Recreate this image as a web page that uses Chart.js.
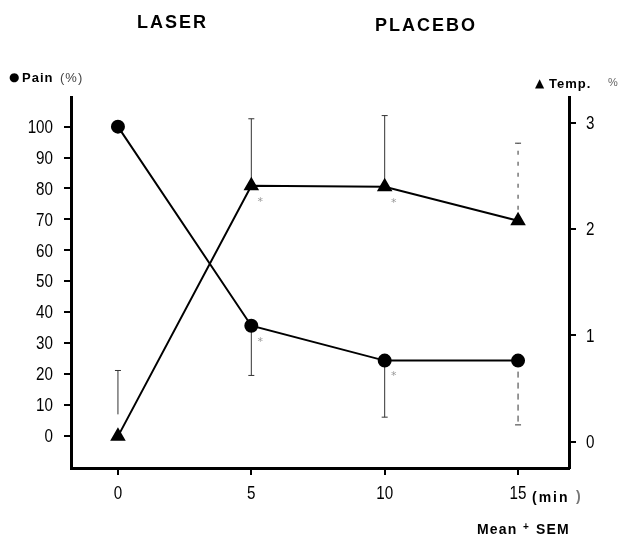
<!DOCTYPE html>
<html>
<head>
<meta charset="utf-8">
<script src="https://cdn.jsdelivr.net/npm/chart.js@4.4.1/dist/chart.umd.min.js"></script>
<style>
  html, body { margin: 0; padding: 0; background: #fff; }
  #wrap { width: 621px; height: 537px; }
</style>
</head>
<body>
<div id="wrap"><canvas id="myChart" width="621" height="537"></canvas></div>
<script>
// minutes after treatment
const minutes = [0, 5, 10, 15];
// pain (%)
const pain = [100, 35.6, 24.3, 24.3];
const painSemLow = [null, 19.5, 6, 3.5];
// temperature change
const temp = [0.05, 2.41, 2.40, 2.08];
const tempSemHigh = [0.67, 3.04, 3.07, 2.81];
// tick labels
const minuteTicks = [0, 5, 10, 15];
const painTicks = [0, 10, 20, 30, 40, 50, 60, 70, 80, 90, 100];
const tempTicks = [0, 1, 2, 3];
// where the significance stars sit (index into minutes)
const painStars = [1, 2];
const tempStars = [1, 2];

const tickFont = '19px "Liberation Sans", Arial, sans-serif';

// condensed looking tick numbers, like the scanned figure
function narrowText(ctx, txt, x, y, align) {
  ctx.save();
  ctx.font = tickFont;
  ctx.textAlign = align;
  ctx.textBaseline = 'middle';
  ctx.translate(x, y);
  ctx.scale(0.8, 1);
  ctx.fillText(txt, 0, 0);
  ctx.restore();
}

// error bars + stars + loose text
const extras = {
  id: 'extras',
  beforeDatasetsDraw(chart) {
    const ctx = chart.ctx;
    const x = chart.scales.x, yl = chart.scales.yPain, yr = chart.scales.yTemp;
    ctx.save();
    ctx.strokeStyle = '#333';
    ctx.lineWidth = 1;
    function bar(px, y0, y1, dash) {
      ctx.setLineDash(dash);
      ctx.beginPath();
      ctx.moveTo(px, y0);
      ctx.lineTo(px, y1);
      ctx.stroke();
      ctx.setLineDash([]);
      ctx.beginPath();
      ctx.moveTo(px - 3, y1);
      ctx.lineTo(px + 3, y1);
      ctx.stroke();
    }
    minutes.forEach((m, i) => {
      const px = x.getPixelForValue(m);
      const last = i === minutes.length - 1;
      if (painSemLow[i] !== null) {
        bar(px, yl.getPixelForValue(pain[i]), yl.getPixelForValue(painSemLow[i]), last ? [6, 5] : []);
      }
      if (tempSemHigh[i] !== null) {
        const start = i === 0 ? yr.getPixelForValue(temp[i]) - 22 : yr.getPixelForValue(temp[i]);
        bar(px, start, yr.getPixelForValue(tempSemHigh[i]), last ? [4, 7] : []);
      }
    });
    ctx.restore();
  },
  afterDraw(chart) {
    const ctx = chart.ctx;
    const x = chart.scales.x, yl = chart.scales.yPain, yr = chart.scales.yTemp;
    ctx.save();
    ctx.fillStyle = '#000';
    minuteTicks.forEach(v => narrowText(ctx, String(v), x.getPixelForValue(v), 494, 'center'));
    painTicks.forEach(v => narrowText(ctx, String(v), 53, yl.getPixelForValue(v) + 1, 'right'));
    tempTicks.forEach(v => narrowText(ctx, String(v), 586, yr.getPixelForValue(v) + 1, 'left'));

    ctx.fillStyle = '#999';
    ctx.font = '11px "DejaVu Sans", sans-serif';
    ctx.textAlign = 'center';
    ctx.textBaseline = 'middle';
    painStars.forEach(i => {
      ctx.fillText('*', x.getPixelForValue(minutes[i]) + 9, yl.getPixelForValue(pain[i]) + 16);
    });
    tempStars.forEach(i => {
      ctx.fillText('*', x.getPixelForValue(minutes[i]) + 9, yr.getPixelForValue(temp[i]) + 16);
    });

    ctx.fillStyle = '#000';
    ctx.textAlign = 'left';
    ctx.letterSpacing = '2px';
    ctx.font = 'bold 18px "Liberation Sans", Arial, sans-serif';
    ctx.fillText('LASER', 137, 23);
    ctx.fillText('PLACEBO', 375, 26);

    ctx.letterSpacing = '1px';
    ctx.font = '12px "DejaVu Sans", sans-serif';
    ctx.fillText('●', 9, 78);
    ctx.font = 'bold 13px "Liberation Sans", Arial, sans-serif';
    ctx.fillText('Pain', 22, 78);
    ctx.fillStyle = '#444';
    ctx.font = '13px "Liberation Sans", Arial, sans-serif';
    ctx.fillText('(%)', 60, 78);

    ctx.fillStyle = '#000';
    ctx.font = '12px "DejaVu Sans", sans-serif';
    ctx.fillText('▲', 535, 84);
    ctx.font = 'bold 13px "Liberation Sans", Arial, sans-serif';
    ctx.fillText('Temp.', 549, 84);
    ctx.fillStyle = '#666';
    ctx.font = '11px "Liberation Sans", Arial, sans-serif';
    ctx.fillText('%', 608, 83);

    ctx.fillStyle = '#000';
    ctx.letterSpacing = '2px';
    ctx.font = 'bold 14px "Liberation Sans", Arial, sans-serif';
    ctx.fillText('(min', 532, 498);
    ctx.fillStyle = '#777';
    ctx.fillText(')', 576, 497);

    ctx.fillStyle = '#000';
    ctx.font = 'bold 14px "Liberation Sans", Arial, sans-serif';
    ctx.letterSpacing = '1.2px';
    ctx.fillText('Mean', 477, 530);
    ctx.font = 'bold 10px "Liberation Sans", Arial, sans-serif';
    ctx.fillText('+', 523, 527);
    ctx.font = 'bold 14px "Liberation Sans", Arial, sans-serif';
    ctx.fillText('SEM', 536, 530);
    ctx.restore();
  }
};

const gridStyle = { drawOnChartArea: false, drawTicks: true, tickLength: 7, color: '#000', lineWidth: 2 };
const borderStyle = { display: true, color: '#000', width: 3 };

const ctx = document.getElementById('myChart').getContext('2d');
const myChart = new Chart(ctx, {
  type: 'line',
  data: {
    datasets: [{
      label: 'Pain',
      data: minutes.map((m, i) => ({ x: m, y: pain[i] })),
      yAxisID: 'yPain',
      borderColor: '#000',
      backgroundColor: '#000',
      borderWidth: 2,
      pointStyle: 'circle',
      pointRadius: 6,
      tension: 0
    }, {
      label: 'Temp.',
      data: minutes.map((m, i) => ({ x: m, y: temp[i] })),
      yAxisID: 'yTemp',
      borderColor: '#000',
      backgroundColor: '#000',
      borderWidth: 2,
      pointStyle: 'triangle',
      pointRadius: 7,
      tension: 0
    }]
  },
  options: {
    responsive: false,
    animation: false,
    events: [],
    layout: { padding: { top: 97, left: 0, right: 0, bottom: 0 } },
    plugins: { legend: { display: false }, tooltip: { enabled: false } },
    scales: {
      x: {
        type: 'linear',
        min: -1.76,
        max: 16.91,
        afterBuildTicks: axis => { axis.ticks = minuteTicks.map(v => ({ value: v })); },
        afterFit: axis => { axis.height = 69; },
        border: borderStyle,
        grid: gridStyle,
        ticks: { display: false }
      },
      yPain: {
        type: 'linear',
        position: 'left',
        min: -10.45,
        max: 109.6,
        afterBuildTicks: axis => { axis.ticks = painTicks.map(v => ({ value: v })); },
        afterFit: axis => { axis.width = 71; },
        border: borderStyle,
        grid: gridStyle,
        ticks: { display: false }
      },
      yTemp: {
        type: 'linear',
        position: 'right',
        min: -0.248,
        max: 3.245,
        afterBuildTicks: axis => { axis.ticks = tempTicks.map(v => ({ value: v })); },
        afterFit: axis => { axis.width = 52; },
        border: borderStyle,
        grid: gridStyle,
        ticks: { display: false }
      }
    }
  },
  plugins: [extras]
});
</script>
</body>
</html>
